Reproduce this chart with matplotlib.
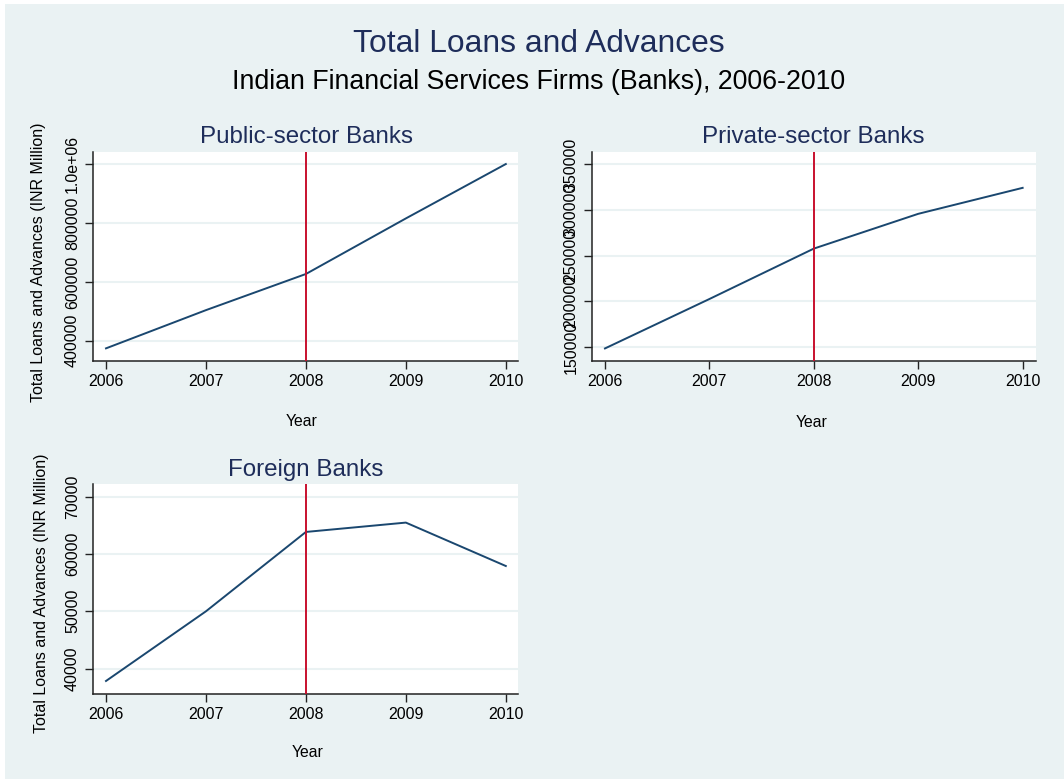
import matplotlib
matplotlib.use("Agg")
import matplotlib.pyplot as plt
import matplotlib.patches as patches

# Prestiti e anticipi totali (INR milioni) per tipo di banca
years = [2006, 2007, 2008, 2009, 2010]
public_loans = [374000, 504000, 627000, 816000, 1001000]
private_loans = [148500, 202500, 257600, 295600, 324000]
foreign_loans = [37850, 50000, 63840, 65470, 57900]

public_ticks = [400000, 600000, 800000, 1000000]
public_ticklabels = ["400000", "600000", "800000", "1.0e+06"]
private_ticks = [150000, 200000, 250000, 300000, 350000]
foreign_ticks = [40000, 50000, 60000, 70000]

crisis_year = 2008

W, H = 1064, 779
BG = "#EAF2F3"
NAVY = "#1A476F"
TITLE_C = "#1E2D5A"
RED = "#C8102E"

plt.rcParams["font.family"] = ["Liberation Sans", "DejaVu Sans"]

fig = plt.figure(figsize=(W / 100, H / 100), dpi=100, facecolor="white")
fig.patches.append(patches.Rectangle((5 / W, 0), 1, (H - 4) / H,
                                     transform=fig.transFigure,
                                     facecolor=BG, edgecolor="none", zorder=-10))


def px_axes(left, top, right, bottom):
    return fig.add_axes([left / W, 1 - bottom / H, (right - left) / W, (bottom - top) / H])


def ftext(x, y, s, **kw):
    fig.text(x / W, 1 - y / H, s, ha="center", va="center", **kw)


def panel(ax, values, ylim, ticks, ticklabels=None):
    ax.set_facecolor("white")
    ax.plot(years, values, color=NAVY, lw=1.4, zorder=3)
    ax.axvline(crisis_year, color=RED, lw=1.4, zorder=4)
    ax.set_xlim(2005.873, 2010.125)
    ax.set_ylim(*ylim)
    ax.set_xticks(years)
    ax.set_yticks(ticks)
    if ticklabels:
        ax.set_yticklabels(ticklabels)
    ax.grid(axis="y", color=BG, lw=1.5, zorder=1)
    ax.grid(axis="x", visible=False)
    for side in ["top", "right"]:
        ax.spines[side].set_visible(False)
    for side in ["left", "bottom"]:
        ax.spines[side].set_linewidth(1.1)
        ax.spines[side].set_color("#222222")
    ax.tick_params(length=5.5, width=1.0, color="#222222", labelsize=11.5, pad=4)
    for lab in ax.get_yticklabels():
        lab.set_rotation(90)
        lab.set_va("center")


ax1 = px_axes(93.3, 151.7, 518.3, 360.7)
panel(ax1, public_loans, (332000, 1043000), public_ticks, public_ticklabels)

ax2 = px_axes(591.7, 151.7, 1035.7, 360.7)
panel(ax2, private_loans, (135100, 363500), private_ticks)

ax3 = px_axes(93.3, 484, 518.3, 694)
panel(ax3, foreign_loans, (35580, 72200), foreign_ticks)

# Titoli
ftext(539, 44, "Total Loans and Advances", fontsize=22.9, color=TITLE_C)
ftext(539, 82, "Indian Financial Services Firms (Banks), 2006-2010", fontsize=19.3, color="black")
ftext(306, 137, "Public-sector Banks", fontsize=17.4, color=TITLE_C)
ftext(813, 137, "Private-sector Banks", fontsize=17.4, color=TITLE_C)
ftext(306, 470, "Foreign Banks", fontsize=17.4, color=TITLE_C)

# Etichette degli assi
ylab = "Total Loans and Advances (INR Million)"
ftext(38.3, 262, ylab, fontsize=11.5, rotation=90)
ftext(41.7, 593, ylab, fontsize=11.5, rotation=90)
ftext(302, 421, "Year", fontsize=11.3)
ftext(811.7, 422.7, "Year", fontsize=11.3)
ftext(308, 752.7, "Year", fontsize=11.3)

fig.savefig("out.png", dpi=100, facecolor="white")
